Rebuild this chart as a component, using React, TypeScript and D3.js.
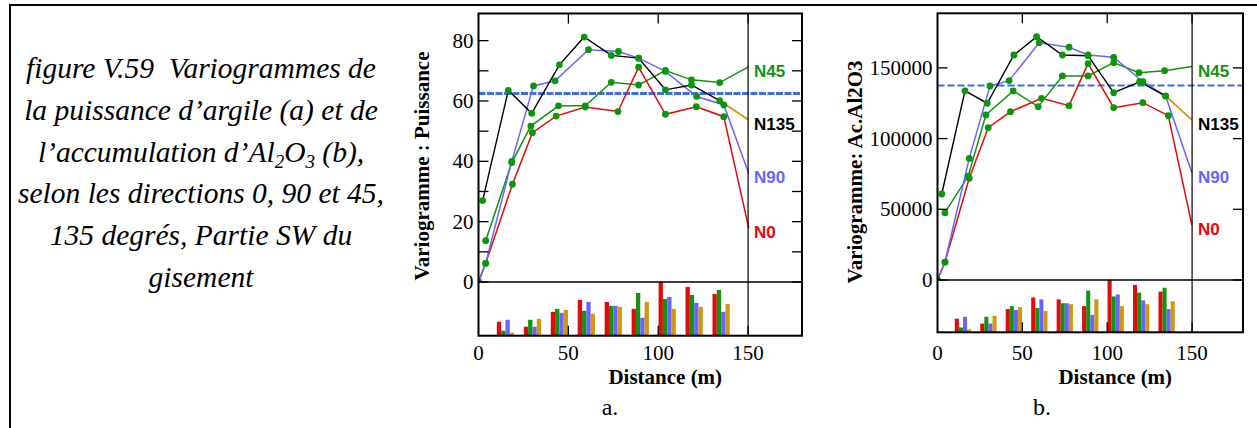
import React from "react";
import * as d3 from "d3";

// ---------- data ----------
const captionLines = [
  "figure V.59\u00a0 Variogrammes de",
  "la puissance d\u2019argile (a) et de",
  "l\u2019accumulation d\u2019Al|2|O|3| (b),",
  "selon les directions 0, 90 et 45,",
  "135 degr\u00e9s, Partie SW du",
  "gisement",
];

const xTickValues = [0, 50, 100, 150];
const lagCenters = [15, 30, 45, 60, 75, 90, 105, 120, 135];
const pairsN0 = [14, 9, 24, 36, 34, 27, 54, 49, 42];
const pairsN45 = [5, 16, 27, 25, 30, 43, 37, 41, 46];
const pairsN90 = [16, 9, 23, 34, 30, 18, 39, 33, 24];
const pairsN135 = [3, 17, 26, 22, 29, 34, 27, 29, 32];

// chart a : Puissance
const distA_N0 = [0, 4, 18.9, 30, 43.2, 59.4, 77.6, 89.1, 104, 121.2, 136.5, 150.4];
const gamA_N0 = [0, 6.2, 32.4, 49.5, 55, 58, 56.5, 71.2, 55.6, 58.1, 54.8, 17.8];
const distA_N90 = [0, 4, 18.5, 30.6, 42.6, 61.2, 77.9, 89.1, 104, 121.4, 136.5, 150.4];
const gamA_N90 = [0, 6.2, 40, 65, 66.7, 77, 76.4, 74.2, 69.8, 61.5, 58.7, 36];
const distA_N45 = [4, 18.5, 29.1, 44.5, 59.4, 73.9, 89.1, 104, 118.5, 134.2, 150.4];
const gamA_N45 = [13.7, 39.6, 51.7, 58.4, 58.4, 66.2, 65.3, 70.1, 67, 66.1, 71.4];
const distA_N135 = [2.3, 16.6, 29.6, 45, 58.8, 73.9, 89.1, 104, 118.5, 134.2, 150.4];
const gamA_N135 = [27, 63.5, 55.9, 72, 81.2, 75.1, 74.2, 63.7, 65.3, 60.1, 53.7];
const sillA = 62.5;
const yTicksA = [0, 20, 40, 60, 80];
const yMinorA = [10, 30, 50, 70];
const rightTicksA = [0, 10, 20, 30, 40, 50, 60, 70, 80];

// chart b : Ac.Al2O3
const distB_N0 = [0, 4.4, 18.7, 29.9, 43, 61.3, 77.5, 88.7, 103.8, 121, 136, 149.9];
const gamB_N0 = [0, 12700, 71900, 107700, 119000, 128500, 123300, 153000, 121900, 125400, 116200, 38900];
const distB_N90 = [0, 4.4, 18.7, 30.9, 42.2, 59.9, 77.5, 88.7, 103.8, 121, 134.4, 149.9];
const gamB_N90 = [0, 12700, 86000, 137200, 141000, 167800, 164600, 159100, 157500, 140200, 130100, 75900];
const distB_N45 = [4.4, 18.1, 28.5, 44.6, 59.3, 73.6, 88.7, 103.8, 118.7, 133.8, 149.9];
const gamB_N45 = [47600, 73500, 116700, 133700, 122600, 144300, 144300, 153700, 146600, 148000, 150900];
const distB_N135 = [2.5, 16.2, 29.3, 45, 58.4, 73.6, 88.7, 103.8, 119.1, 134.4, 149.9];
const gamB_N135 = [60800, 133700, 125000, 159100, 172100, 159100, 158600, 132500, 140200, 130100, 113200];
const sillB = 137500;
const yTicksB = [0, 50000, 100000, 150000];
const rightTicksB = [0, 50000, 100000, 150000];

// ---------- style ----------
const RED = "#e20a0a";
const GREEN = "#129312";
const BLUE = "#6666ff";
const ORANGE = "#d4960f";
const DOT = "#0c960c";
const SILL = "#3c6ee8";
const SERIF = "'Liberation Serif', 'Times New Roman', serif";
const SANS = "'Liberation Sans', Arial, sans-serif";

type Series = { name: string; color: string; labelColor: string; dist: number[]; gam: number[]; tailColor?: string };

type PanelProps = {
  id: string;
  x0: number; x1: number; top: number; zero: number; bottom: number;
  yMax: number;
  series: Series[];
  sill: number;
  sillWidth: number;
  sillDash: string;
  yTicks: number[];
  yMinor: number[];
  rightTicks: number[];
  yTitle: string;
  yTitleX: number;
  yTitleY: number;
  caption: string;
  captionX: number;
  labelOffset: number;
};

function Panel(p: PanelProps) {
  const x = d3.scaleLinear().domain([0, 180]).range([p.x0, p.x1]);
  const y = d3.scaleLinear().domain([0, p.yMax]).range([p.zero, p.top]);
  const by = d3.scaleLinear().domain([0, 54]).range([p.bottom, p.zero]);
  const line = d3.line<[number, number]>().x((d) => x(d[0])).y((d) => y(d[1]));
  const bw = 2.4;
  const pairSets = [
    { v: pairsN0, c: RED },
    { v: pairsN45, c: GREEN },
    { v: pairsN90, c: BLUE },
    { v: pairsN135, c: ORANGE },
  ];
  const clipId = "clip-" + p.id;
  return (
    <g>
      <defs>
        <clipPath id={clipId}>
          <rect x={p.x0} y={p.top} width={p.x1 - p.x0} height={p.zero - p.top} />
        </clipPath>
      </defs>
      {pairSets.map((s, si) =>
        lagCenters.map((c, i) => (
          <rect
            key={"b" + si + "-" + i}
            x={x(c - 2 * bw + si * bw)}
            width={x(bw) - x(0)}
            y={by(s.v[i])}
            height={p.bottom - by(s.v[i])}
            fill={s.c}
          />
        ))
      )}
      <line x1={p.x0} x2={p.x1} y1={y(p.sill)} y2={y(p.sill)} stroke={SILL} strokeWidth={p.sillWidth} strokeDasharray={p.sillDash} />
      <g clipPath={`url(#${clipId})`}>
        {p.series.map((s) => {
          const pts = s.dist.map((d, i) => [d, s.gam[i]] as [number, number]);
          if (s.tailColor) {
            return (
              <g key={s.name}>
                <path d={line(pts.slice(0, -1)) || ""} fill="none" stroke={s.color} strokeWidth={1.4} />
                <path d={line(pts.slice(-2)) || ""} fill="none" stroke={s.tailColor} strokeWidth={1.8} />
              </g>
            );
          }
          return <path key={s.name} d={line(pts) || ""} fill="none" stroke={s.color} strokeWidth={1.5} />;
        })}
        {p.series.map((s) =>
          s.dist.map((d, i) =>
            d < 149 ? <circle key={s.name + "d" + i} cx={x(d)} cy={y(s.gam[i])} r={3.4} fill={DOT} /> : null
          )
        )}
      </g>
      <rect x={p.x0} y={p.top} width={p.x1 - p.x0} height={p.bottom - p.top} fill="none" stroke="#000" strokeWidth={2} />
      <line x1={p.x0} x2={p.x1} y1={p.zero} y2={p.zero} stroke="#000" strokeWidth={1.6} />
      <line x1={x(150)} x2={x(150)} y1={p.top} y2={p.bottom} stroke="#000" strokeWidth={1.2} />
      {[...p.yTicks, ...p.yMinor].map((v) => (
        <line key={"yt" + v} x1={p.x0} x2={p.x0 + 10} y1={y(v)} y2={y(v)} stroke="#000" strokeWidth={1.3} />
      ))}
      {p.rightTicks.map((v) => (
        <line key={"rt" + v} x1={p.x1 - 10} x2={p.x1} y1={y(v)} y2={y(v)} stroke="#000" strokeWidth={1.3} />
      ))}
      {p.yTicks.map((v) => (
        <text key={"yl" + v} x={p.x0 - 5} y={y(v) + 7} textAnchor="end" fontFamily={SERIF} fontSize={21}>
          {v}
        </text>
      ))}
      {xTickValues.filter((v) => v > 0).map((v) => (
        <g key={"xt" + v}>
          <line x1={x(v)} x2={x(v)} y1={p.top} y2={p.top + 10} stroke="#000" strokeWidth={1.3} />
          <line x1={x(v)} x2={x(v)} y1={p.bottom} y2={p.bottom - 10} stroke="#000" strokeWidth={1.3} />
        </g>
      ))}
      {xTickValues.map((v) => (
        <text key={"xl" + v} x={x(v)} y={360} textAnchor="middle" fontFamily={SERIF} fontSize={21}>
          {v}
        </text>
      ))}
      {p.series.map((s) => (
        <text
          key={"lab" + s.name}
          x={x(150) + 6}
          y={y(s.gam[s.gam.length - 1]) + p.labelOffset}
          fontFamily={SANS}
          fontWeight="bold"
          fontSize={17}
          fill={s.labelColor}
        >
          {s.name}
        </text>
      ))}
      <text
        transform={`translate(${p.yTitleX},${p.yTitleY}) rotate(-90)`}
        textAnchor="middle"
        fontFamily={SERIF}
        fontWeight="bold"
        fontSize={21}
      >
        {p.yTitle}
      </text>
      <text x={(x(0) + x(180)) / 2 + 25} y={384} textAnchor="middle" fontFamily={SERIF} fontWeight="bold" fontSize={21}>
        Distance (m)
      </text>
      <text x={p.captionX} y={415} textAnchor="middle" fontFamily={SERIF} fontSize={24}>
        {p.caption}
      </text>
    </g>
  );
}

function CaptionLine({ text, yy }: { text: string; yy: number }) {
  if (text.includes("|")) {
    const parts = text.split("|");
    return (
      <text x={201} y={yy} textAnchor="middle" fontFamily={SERIF} fontStyle="italic" fontSize={29.5}>
        <tspan>{parts[0]}</tspan>
        <tspan dy={6} fontSize={19}>{parts[1]}</tspan>
        <tspan dy={-6}>{parts[2]}</tspan>
        <tspan dy={6} fontSize={19}>{parts[3]}</tspan>
        <tspan dy={-6}>{parts[4]}</tspan>
      </text>
    );
  }
  return (
    <text x={201} y={yy} textAnchor="middle" fontFamily={SERIF} fontStyle="italic" fontSize={29.5}>
      {text}
    </text>
  );
}

export default function App() {
  const seriesA: Series[] = [
    { name: "N45", color: GREEN, labelColor: GREEN, dist: distA_N45, gam: gamA_N45 },
    { name: "N0", color: RED, labelColor: RED, dist: distA_N0, gam: gamA_N0 },
    { name: "N90", color: BLUE, labelColor: BLUE, dist: distA_N90, gam: gamA_N90 },
    { name: "N135", color: "#000", labelColor: "#000", dist: distA_N135, gam: gamA_N135, tailColor: ORANGE },
  ];
  const seriesB: Series[] = [
    { name: "N45", color: GREEN, labelColor: GREEN, dist: distB_N45, gam: gamB_N45 },
    { name: "N0", color: RED, labelColor: RED, dist: distB_N0, gam: gamB_N0 },
    { name: "N90", color: BLUE, labelColor: BLUE, dist: distB_N90, gam: gamB_N90 },
    { name: "N135", color: "#000", labelColor: "#000", dist: distB_N135, gam: gamB_N135, tailColor: ORANGE },
  ];
  return (
    <svg width={1257} height={428} style={{ position: "absolute", left: 0, top: 0, background: "#fff" }}>
      <rect width={1257} height={428} fill="#fff" />
      <line x1={10} x2={1257} y1={5} y2={5} stroke="#000" strokeWidth={2} />
      <line x1={10} x2={10} y1={4} y2={428} stroke="#000" strokeWidth={2} />
      {captionLines.map((t, i) => (
        <CaptionLine key={i} text={t} yy={78 + i * 41.8} />
      ))}
      <Panel
        id="a"
        x0={478.5}
        x1={802}
        top={13.5}
        zero={282}
        bottom={335.7}
        yMax={89}
        series={seriesA}
        sill={sillA}
        sillWidth={3}
        sillDash="7 1.5"
        yTicks={yTicksA}
        yMinor={yMinorA}
        rightTicks={rightTicksA}
        yTitle="Variogramme : Puissance"
        yTitleX={429}
        yTitleY={166}
        caption="a."
        captionX={610}
        labelOffset={10}
      />
      <Panel
        id="b"
        x0={937.5}
        x1={1243}
        top={13.3}
        zero={280}
        bottom={332.3}
        yMax={188600}
        series={seriesB}
        sill={sillB}
        sillWidth={2}
        sillDash="7 3"
        yTicks={yTicksB}
        yMinor={[]}
        rightTicks={rightTicksB}
        yTitle="Variogramme: Ac.Al2O3"
        yTitleX={862}
        yTitleY={172}
        caption="b."
        captionX={1042}
        labelOffset={10}
      />
    </svg>
  );
}
